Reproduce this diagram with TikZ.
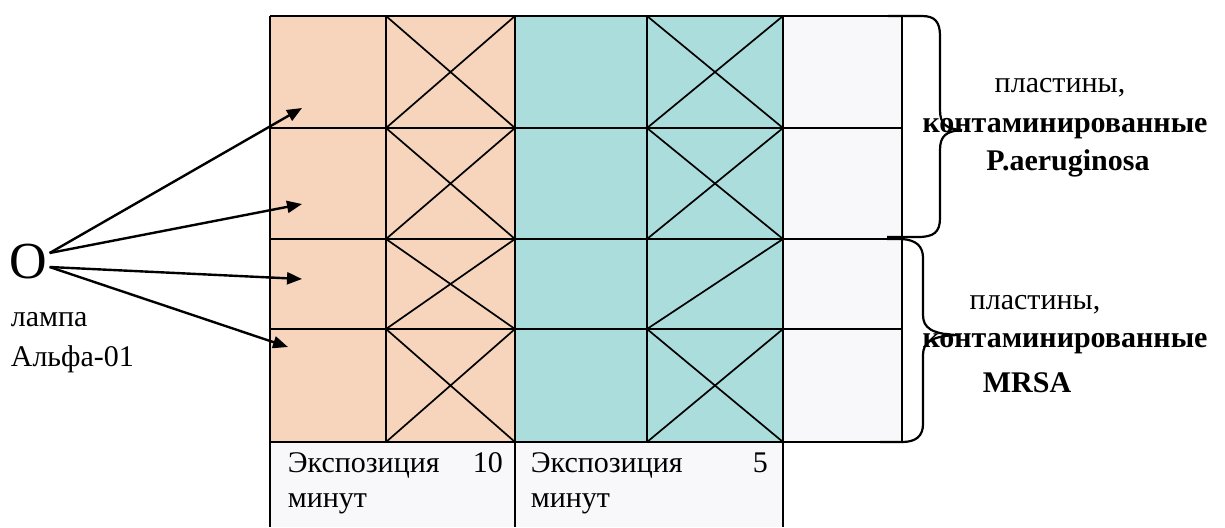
\documentclass[tikz,border=0pt]{standalone}
\usepackage{fontspec}
\setmainfont{Liberation Serif}
\usetikzlibrary{arrows.meta, positioning, calc}
\definecolor{dsc}{HTML}{F6D5BC}
\definecolor{tlc}{HTML}{ABDDDD}
\definecolor{plc}{HTML}{F8F8FA}
\tikzset{
  lbl/.style={font=\rmfamily\fontsize{15}{17.5}\selectfont, inner sep=0pt},
  lblb/.style={font=\rmfamily\fontsize{15}{17.5}\selectfont\bfseries, inner sep=0pt},
  brc/.style={line width=1.1pt}
}

\begin{document}
\begin{tikzpicture}[x=0.5pt, y=-0.5pt, line width=0.85pt,
    >={Triangle[length=7.5pt, width=6pt]}]
    \useasboundingbox (0,0) rectangle (1225,527);
    % plates
    \fill[dsc] (270,16) rectangle (515,442);
    \fill[tlc] (515,16) rectangle (783,442);
    \fill[plc] (783,16) rectangle (902,442);
    \fill[plc] (270,442) rectangle (783,527);
    \foreach \y in {16,128,239,329,442}
      \draw (270,\y) -- (902,\y);
    \foreach \x/\b in {270/527,386/442,515/527,647/442,783/527,902/442}
      \draw (\x,16) -- (\x,\b);
    \foreach \t/\b in {16/128,128/239,239/329,329/442}{
      \draw (386,\t) -- (515,\b) (386,\b) -- (515,\t);
      \draw (647,\b) -- (783,\t);
    }
    \foreach \t/\b in {16/128,128/239,329/442}
      \draw (647,\t) -- (783,\b);
    % lamp
    \node[inner sep=0pt, font=\rmfamily\fontsize{26}{26}\selectfont] (lamp) at (28,262) {O};
    \node[lbl, align=left, anchor=north west, font=\rmfamily\fontsize{15}{20}\selectfont]
      (lampname) at (10,312) {лампа\\Альфа-01};
    \coordinate (c1) at (302,108);
    \coordinate (c2) at (302,204);
    \coordinate (c3) at (302,279);
    \coordinate (c4) at (288,347);
    \foreach \c/\s in {c1/-9,c2/-9,c3/5,c4/5}
      \draw[->, line width=1.2pt] ($(lamp.east)+(2,\s)$) -- (\c);
    % exposure
    \node[lbl, align=left, text width=107.5pt, anchor=north west]
      (exp10) at (287,452) {Экспозиция\hskip 0pt plus 1fill 10\\минут};
    \node[lbl, align=left, text width=118.5pt, anchor=north west]
      (exp5) at (530,452) {Экспозиция\hskip 0pt plus 1fill 5\\минут};
    % braces
    \draw[brc] (888,16) -- (922,16) .. controls (935,16) and (940,22) .. (940,36)
      -- (940,110) .. controls (940,124) and (946,129) .. (962,130)
      .. controls (946,131) and (940,136) .. (940,150)
      -- (940,218) .. controls (940,232) and (934,237) .. (918,237) -- (887,237);
    \draw[brc] (887,239) -- (902,239) .. controls (916,240) and (923,246) .. (923,258)
      -- (923,315) .. controls (923,328) and (932,334) .. (957,335)
      .. controls (932,336) and (923,342) .. (923,355)
      -- (923,424) .. controls (923,436) and (916,442) .. (902,442) -- (880,442);
    % groups
    \node[lbl] (plA) at (1060,88) {пластины,};
    \node[lblb] (knA) at (1065,129) {контаминированные};
    \node[lblb] (paer) at (1068,163) {P.aeruginosa};
    \node[lbl] (plB) at (1035,305) {пластины,};
    \node[lblb] (knB) at (1065,344) {контаминированные};
    \node[lblb] (mrsa) at (1027,383) {MRSA};
\end{tikzpicture}
\end{document}
